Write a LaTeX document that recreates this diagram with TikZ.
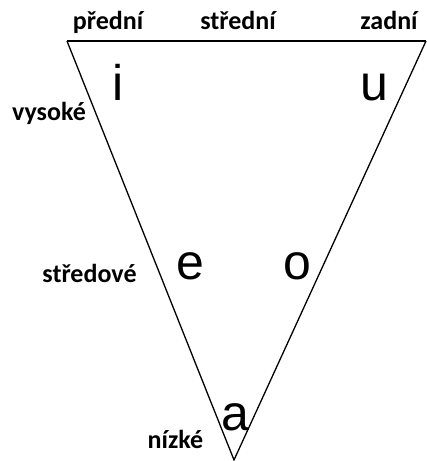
\documentclass[tikz,border=0pt]{standalone}
\usepackage{fontspec}
\setmainfont{Carlito}
\newfontfamily\vowelfont{Liberation Sans}
\begin{document}
\begin{tikzpicture}[x=1pt,y=-1pt,
  lbl/.style={font=\fontsize{26}{30}\selectfont\bfseries, anchor=base, inner sep=0pt},
  vow/.style={font=\fontsize{50}{54}\vowelfont, anchor=base, inner sep=0pt}]
\useasboundingbox (0,0) rectangle (427,461);
\coordinate (TL) at (67,41);
\coordinate (TR) at (426,41);
\coordinate (B) at (234,460);
\draw[line width=2pt] (TL) -- (TR);
\draw[line width=1.3pt, line join=miter] (TL) -- (B) -- (TR);
\node[lbl] (pr) at (108,29) {přední};
\node[lbl] (st) at (238,29) {střední};
\node[lbl] (za) at (389,29) {zadní};
\node[lbl] (vy) at (49,120) {vysoké};
\node[lbl] (sd) at (89.5,282) {středové};
\node[lbl] (ni) at (175.5,448) {nízké};
\node[vow] (vi) at (118,100) {i};
\node[vow] (vu) at (374,100) {u};
\node[vow] (ve) at (190,279) {e};
\node[vow] (vo) at (297,279) {o};
\node[vow] (va) at (235,430) {a};
\end{tikzpicture}
\end{document}
